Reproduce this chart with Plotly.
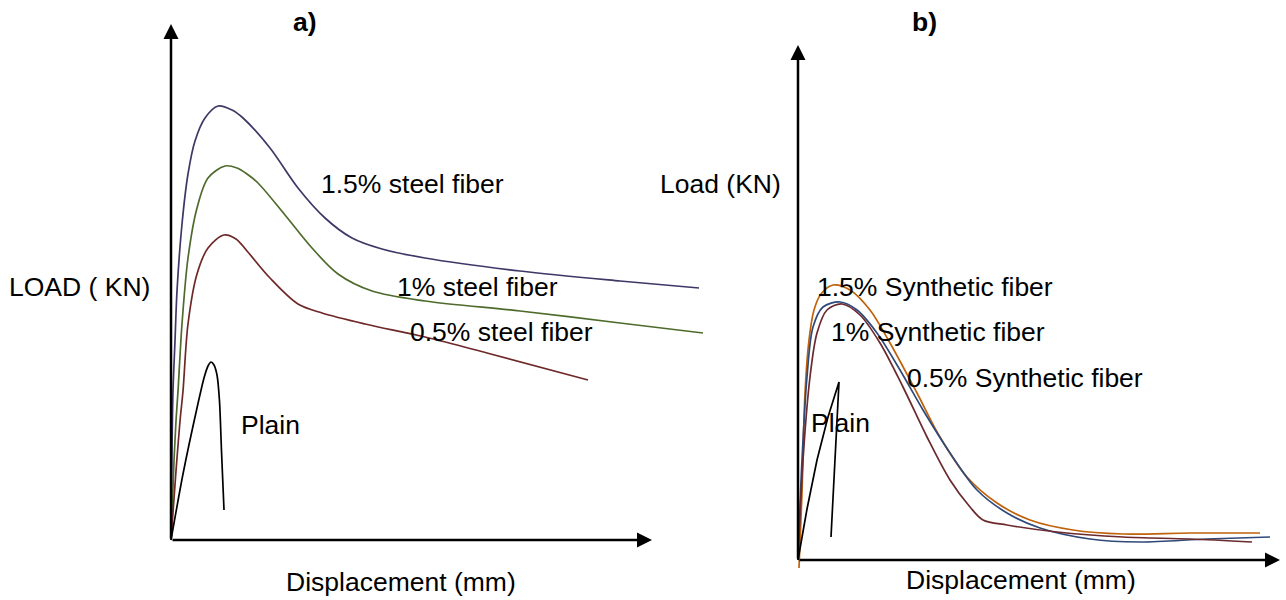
import plotly.graph_objects as go

# ---------------- Panel a) steel fiber (arbitrary units read from the sketch) ----------------
a_steel15_x = [0, 0.1, 0.2, 0.4, 0.6, 1.1, 1.7, 2.4, 3.4, 4.7, 6.1, 7.2, 9.9, 12.7, 15.4, 18.1, 21.1, 25.4, 34.9, 44.9, 52.8]
a_steel15_y = [0, 8.9, 14.9, 19.9, 24.9, 31.6, 36.6, 39.9, 42.2, 43.4, 43.0, 42.2, 39.2, 35.2, 32.2, 30.2, 29.1, 28.2, 26.9, 25.9, 25.2]

a_steel10_x = [0, 0.3, 0.5, 0.7, 1.1, 1.7, 2.6, 3.7, 5.4, 6.6, 7.6, 8.7, 11.4, 14.1, 16.7, 20.1, 25.4, 34.9, 44.9, 53.2]
a_steel10_y = [0, 7.9, 11.9, 14.9, 21.6, 28.2, 33.2, 36.2, 37.4, 37.2, 36.6, 35.7, 32.5, 29.2, 26.6, 24.9, 23.9, 22.9, 21.7, 20.7]

a_steel05_x = [0, 0.5, 0.9, 1.2, 1.7, 2.6, 3.7, 5.3, 6.5, 7.6, 9.9, 12.7, 15.1, 19.4, 25.4, 31.6, 41.7]
a_steel05_y = [0, 6.9, 11.9, 14.9, 21.6, 26.6, 29.2, 30.5, 30.1, 28.9, 26.2, 23.6, 22.7, 21.6, 20.3, 18.7, 16.0]

a_plain_x = [0, 1.2, 2.6, 3.3, 3.7, 4.0, 4.3, 4.6, 4.85, 5.05, 5.3]
a_plain_y = [0, 6.6, 13.2, 16.2, 17.4, 17.8, 17.5, 16.5, 13.9, 8.9, 3.0]

# ---------------- Panel b) synthetic fiber ----------------
b_syn15_x = [0.1, 0.4, 0.7, 1.1, 1.6, 2.3, 3.5, 5.2, 7.2, 9.2, 11.9, 14.2, 16.9, 19.9, 23.2, 27.5, 32.5, 39.2, 46.2]
b_syn15_y = [-0.8, 6.7, 16.7, 22.0, 25.0, 26.6, 27.5, 27.0, 25.0, 21.7, 16.7, 12.3, 8.3, 5.7, 4.0, 3.0, 2.6, 2.7, 2.7]

b_syn10_x = [0, 0.4, 0.9, 1.5, 2.5, 4.2, 5.9, 7.9, 10.2, 12.5, 15.2, 17.9, 20.9, 24.2, 29.2, 34.2, 40.9, 47.2]
b_syn10_y = [0, 10.0, 18.3, 23.3, 25.3, 25.8, 25.0, 22.7, 19.0, 15.0, 10.7, 7.0, 4.7, 3.2, 2.1, 1.8, 2.1, 2.3]

b_syn05_x = [0, 0.5, 1.2, 1.9, 2.9, 4.4, 6.2, 8.2, 10.5, 12.9, 15.2, 17.2, 18.5, 20.9, 25.9, 32.5, 39.2, 45.4]
b_syn05_y = [0, 10.0, 18.3, 22.7, 25.0, 25.6, 24.5, 21.7, 17.3, 12.3, 8.0, 5.3, 4.0, 3.5, 2.8, 2.3, 2.1, 1.8]

b_plain_x = [0, 0.9, 1.9, 3.0, 4.1, 3.3]
b_plain_y = [0, 5.1, 10.0, 14.3, 17.8, 2.3]

# axis extents (arrow tips) in data units
a_xmax, a_ymax = 48.1, 51.6
b_xmax, b_ymax = 48.2, 51.5

W, H = 1286, 600
FONT = "Liberation Sans, Arial, sans-serif"

fig = go.Figure()

def add_line(x, y, color, xa, ya, shape="spline", smoothing=0.9):
    fig.add_trace(go.Scatter(x=x, y=y, mode="lines", xaxis=xa, yaxis=ya,
                             line=dict(color=color, width=1.7, shape=shape, smoothing=smoothing),
                             hoverinfo="skip", showlegend=False))

add_line(a_steel15_x, a_steel15_y, "#3f3766", "x", "y")
add_line(a_steel10_x, a_steel10_y, "#4e6b2c", "x", "y")
add_line(a_steel05_x, a_steel05_y, "#6e2828", "x", "y")
add_line(a_plain_x, a_plain_y, "#000000", "x", "y", smoothing=0.7)

add_line(b_syn15_x, b_syn15_y, "#c0620c", "x2", "y2")
add_line(b_syn10_x, b_syn10_y, "#2f4a7a", "x2", "y2")
add_line(b_syn05_x, b_syn05_y, "#6b2a2e", "x2", "y2")
add_line(b_plain_x, b_plain_y, "#000000", "x2", "y2", shape="linear")

ann = []

def arrow(xr, yr, x, y, ax, ay):
    ann.append(dict(xref=xr, yref=yr, axref=xr, ayref=yr, x=x, y=y, ax=ax, ay=ay,
                    showarrow=True, arrowhead=2, arrowsize=1.2, arrowwidth=2.5,
                    arrowcolor="#000000", text="", standoff=0, startstandoff=0))

arrow("x", "y", a_xmax, 0, 0, 0)
arrow("x", "y", 0, a_ymax, 0, 0)
arrow("x2", "y2", b_xmax, 0, 0, 0)
arrow("x2", "y2", 0, b_ymax, 0, 0)

def label(text, px, py, anchor="left", bold=False, size=26.5):
    ann.append(dict(xref="paper", yref="paper", x=px / W, y=1 - py / H,
                    xanchor=anchor, yanchor="middle", showarrow=False,
                    text=f"<b>{text}</b>" if bold else text,
                    font=dict(family=FONT, size=size, color="#000000")))

label("a)", 305, 22, "center", bold=True)
label("b)", 924, 22, "center", bold=True)
label("LOAD ( KN)", 7, 287)
label("Load (KN)", 658, 184)
label("1.5% steel fiber", 319, 184)
label("1% steel fiber", 395, 287)
label("0.5% steel fiber", 408, 332)
label("Plain", 239, 425)
label("Displacement (mm)", 401, 582, "center")
label("1.5% Synthetic fiber", 815, 287)
label("1% Synthetic fiber", 829, 332)
label("0.5% Synthetic fiber", 905, 378)
label("Plain", 809, 423)
label("Displacement (mm)", 1021, 580, "center")

# domains from pixel extents
def xdom(p0, p1):
    return [p0 / W, p1 / W]

def ydom(p_bottom, p_top):
    return [(H - p_bottom) / H, (H - p_top) / H]

axis_common = dict(visible=False, showgrid=False, zeroline=False, fixedrange=True)

fig.update_layout(
    width=W, height=H,
    margin=dict(l=0, r=0, t=0, b=0),
    paper_bgcolor="white", plot_bgcolor="white",
    showlegend=False,
    xaxis=dict(domain=xdom(151, 721), range=[-2, 55], anchor="y", **axis_common),
    yaxis=dict(domain=ydom(570, 10), range=[-3, 53], anchor="x", **axis_common),
    xaxis2=dict(domain=xdom(778, 1284), range=[-2, 48.6], anchor="y2", **axis_common),
    yaxis2=dict(domain=ydom(590, 30), range=[-3, 53], anchor="x2", **axis_common),
    annotations=ann,
)

fig.write_html("out.html")
